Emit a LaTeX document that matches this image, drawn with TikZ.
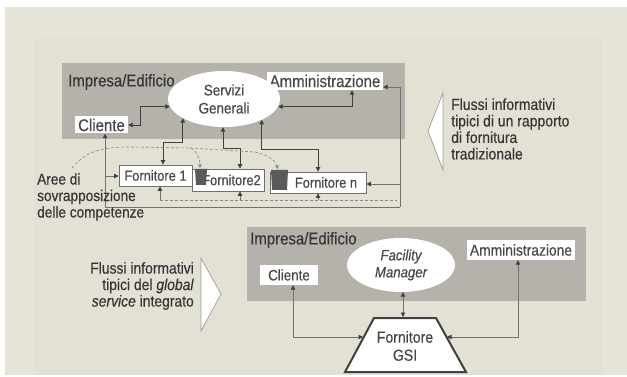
\documentclass[tikz,border=0pt]{standalone}
\usepackage{fontspec}
\setmainfont[FakeStretch=0.88,FakeBold=0.35]{Liberation Sans}
\usetikzlibrary{arrows.meta,shapes.geometric}
\definecolor{bgout}{HTML}{E6E4D8}
\definecolor{bgin}{HTML}{E3E1D4}
\definecolor{boxgray}{HTML}{B4B2AA}
\definecolor{txt}{HTML}{353535}
\definecolor{wtxt}{HTML}{484848}
\definecolor{ln}{HTML}{404040}
\definecolor{ln2}{HTML}{707070}
\definecolor{dashc}{HTML}{8A8A88}
\definecolor{patch}{HTML}{5A5A5A}
\newcommand{\fsz}[2]{\fontsize{#1}{#2}\selectfont}
\tikzset{
  lbl/.style={inner sep=0pt, text=txt},
  wbox/.style={fill=white, inner sep=0pt, text=wtxt},
  fbox/.style={draw=ln2, line width=0.8pt, fill=white, inner sep=0pt, text=wtxt, font=\fsz{14.6}{15}},
  oval/.style={ellipse, fill=white, inner sep=0pt, align=center, text=wtxt},
  arr/.style={-{Triangle[length=4.5pt,width=4.5pt,color=ln]}},
  rarr/.style={{Triangle[length=4.5pt,width=4.5pt,color=ln]}-},
  both/.style={{Triangle[length=4.5pt,width=4.5pt,color=ln]}-{Triangle[length=4.5pt,width=4.5pt,color=ln]}},
  conn/.style={draw=ln, line width=0.9pt},
  conn2/.style={draw=ln2, line width=0.8pt},
  dsh/.style={draw=dashc, line width=0.6pt, dash pattern=on 3pt off 2pt},
  chev/.style={fill=white, draw=ln2!70, line width=0.7pt}
}
\begin{document}
\begin{tikzpicture}[x=1pt,y=-1pt]
\useasboundingbox (0,0) rectangle (627,377);
\fill[white] (0,0) rectangle (627,377);
\fill[bgout] (5,7) rectangle (627,375);
\fill[bgin] (34,38) rectangle (602,375);

% ---------- top diagram ----------
\fill[boxgray] (62,63) rectangle (405,139);
\node[lbl,anchor=west,font=\fsz{17}{17}] (imp1) at (68,82) {Impresa/Edificio};
\node[wbox,minimum width=116pt,minimum height=18pt,font=\fsz{17}{17}] (amm1) at (325,81) {Amministrazione};
\node[wbox,minimum width=53pt,minimum height=17pt,font=\fsz{17}{17}] (cli1) at (101.5,125) {Cliente};
\node[oval,minimum width=112pt,minimum height=56pt,font=\fsz{15.3}{18}] (sg) at (224,99) {Servizi\\Generali};

\node[fbox,minimum width=73pt,minimum height=21pt] (f1) at (155.5,175.5) {Fornitore 1};
\node[fbox,minimum width=72pt,minimum height=22pt] (f2) at (228,180) {\hspace{7pt}Fornitore2};
\fill[patch] (195,169) -- (207,169) -- (206,185) -- (196,185) -- cycle;
\node[fbox,minimum width=96pt,minimum height=21pt] (fn) at (318,182.5) {\hspace{16pt}Fornitore n};
\fill[patch] (271,170) -- (288,170) -- (287,190) -- (272,190) -- cycle;

\coordinate (tr1) at (400,87);
\coordinate (tr2) at (400,184);
\coordinate (tr3) at (400,207);
\coordinate (cl1) at (105,176);
\coordinate (cl2) at (105,207);
\coordinate (fb) at (397,200);

\draw[conn,both] (cli1.east) -- ++(12,0) |- (sg.188);
\draw[conn,both] (sg.352) -| ([xshift=27pt]amm1.south);
\draw[conn,both] (sg.205) -- ++(0,24) -| ([xshift=7.5pt]f1.north);
\draw[conn,both] (sg.268) -- ++(0,21) -| ([xshift=12pt]f2.north);
\draw[conn,both] (sg.331) -- ++(0,30) -| (fn.north);
\draw[conn2,arr] (tr3) -- (tr1) -- ([yshift=-6pt]amm1.east);
\draw[conn2,arr] (tr2) -- (fn.east |- tr2);
\draw[conn2] (cl2) -- (tr3);
\draw[conn2,rarr] ([xshift=3.5pt]cli1.south) -- (cl2);
\draw[conn2,arr] (cl1) -- (f1.west |- cl1);
\draw[dsh] ([xshift=4.5pt]f1.south |- fb) -- (fb);
\draw[conn2,arr] ([xshift=4.5pt]f1.south |- fb) -- ([xshift=4.5pt]f1.south);
\draw[conn2,arr] ([xshift=12pt]f2.south |- fb) -- ([xshift=12pt]f2.south);
\draw[conn2,arr] (fn.south |- fb) -- (fn.south);

% dashed "aree di sovrapposizione"
\draw[dsh,-{Triangle[length=3.5pt,width=3.5pt,color=dashc]}] (72,168) .. controls (85,152) and (100,147) .. (130,147) -- (190,148) .. controls (197,150) and (200,160) .. (200,168);
\draw[dsh,-{Triangle[length=3.5pt,width=3.5pt,color=dashc]}] (190,148) -- (255,152) .. controls (268,155) and (275,160) .. (278,169);

\node[lbl,anchor=west,align=left,font=\fsz{15.5}{16.5}] (aree) at (37,197) {Aree di\\sovrapposizione\\delle competenze};

% right annotation
\draw[chev] (443,93) -- (428,131) -- (443,170) -- cycle;
\node[lbl,anchor=west,align=left,font=\fsz{15.9}{16.5}] (fl1) at (451,129) {Flussi informativi\\tipici di un rapporto\\di fornitura\\tradizionale};

% ---------- bottom diagram ----------
\fill[boxgray] (247,227) rectangle (586,301);
\node[lbl,anchor=west,font=\fsz{17}{17}] (imp2) at (250,240) {Impresa/Edificio};
\node[wbox,minimum width=108pt,minimum height=20pt,font=\fsz{15.7}{16}] (amm2) at (521,250) {Amministrazione};
\node[wbox,minimum width=58pt,minimum height=20pt,font=\fsz{15.2}{16}] (cli2) at (289,275) {Cliente};
\node[oval,minimum width=108pt,minimum height=54pt,font=\fsz{15}{17}\itshape] (fm) at (401,265) {Facility\\Manager};

\draw[draw=ln,line width=2pt,fill=white,line join=miter] (374,318) -- (436,318) -- (466,372) -- (345,372) -- cycle;
\node[lbl,align=center,font=\fsz{16}{18},text=wtxt] (gsi) at (405,346) {Fornitore\\GSI};
\coordinate (gsiT) at (403,317);
\coordinate (gsiL) at (363,337);
\coordinate (gsiR) at (447,337);

\draw[conn2,both] ([xshift=4pt]cli2.south) |- (gsiL);
\draw[conn2,both] ([xshift=2pt]fm.south) -- (gsiT);
\draw[conn2,both] ([xshift=-3pt]amm2.south) |- (gsiR);

% left annotation
\draw[chev] (201,258) -- (221,294) -- (201,331) -- cycle;
\node[lbl,anchor=east,align=right,font=\fsz{15.8}{16.5}] (fl2) at (194,286) {Flussi informativi\\tipici del \textit{global}\\\textit{service} integrato};
\end{tikzpicture}
\end{document}
